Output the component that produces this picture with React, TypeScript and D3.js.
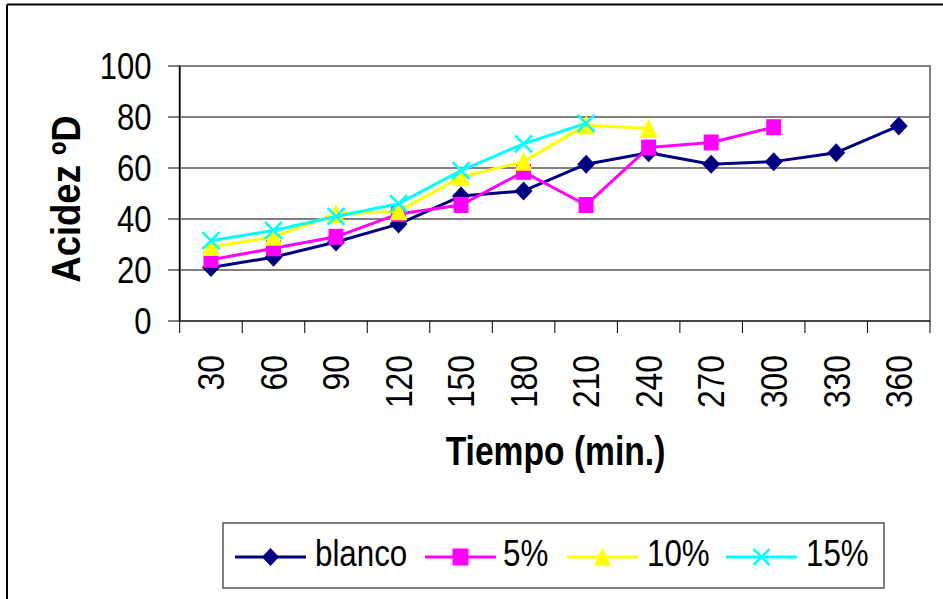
import React from "react";
import * as d3 from "d3";

const categories = ["30", "60", "90", "120", "150", "180", "210", "240", "270", "300", "330", "360"];
const blanco = [21, 25, 31, 38, 49, 51, 61.5, 66, 61.5, 62.5, 66, 76.5];
const pct5 = [24, 28.5, 33, 42, 45.5, 58.5, 45.5, 68, 70, 76];
const pct10 = [29, 33, 42, 43, 56.5, 62.5, 76.8, 75.5];
const pct15 = [31.5, 35.5, 41, 46, 59, 69.5, 77.5];
const yTicks = [0, 20, 40, 60, 80, 100];
const seriesNames = ["blanco", "5%", "10%", "15%"];

const W = 943;
const H = 599;
const FONT = "'Liberation Sans', Arial, sans-serif";

type Kind = "diamond" | "square" | "triangle" | "x";

function markerPath(kind: Kind, cx: number, cy: number, s: number): string {
  const p = d3.path();
  const h = s / 2;
  if (kind === "diamond") {
    p.moveTo(cx, cy - h - 0.5);
    p.lineTo(cx + h, cy);
    p.lineTo(cx, cy + h + 0.5);
    p.lineTo(cx - h, cy);
    p.closePath();
  } else if (kind === "square") {
    p.rect(cx - h + 0.5, cy - h, s - 1, s);
  } else if (kind === "triangle") {
    p.moveTo(cx, cy - h - 1);
    p.lineTo(cx + h, cy + h);
    p.lineTo(cx - h, cy + h);
    p.closePath();
  } else {
    p.moveTo(cx - h, cy - h);
    p.lineTo(cx + h, cy + h);
    p.moveTo(cx + h, cy - h);
    p.lineTo(cx - h, cy + h);
  }
  return p.toString();
}

const series: { name: string; values: number[]; color: string; kind: Kind }[] = [
  { name: seriesNames[0], values: blanco, color: "#000080", kind: "diamond" },
  { name: seriesNames[1], values: pct5, color: "#FF00FF", kind: "square" },
  { name: seriesNames[2], values: pct10, color: "#FFFF00", kind: "triangle" },
  { name: seriesNames[3], values: pct15, color: "#00FFFF", kind: "x" },
];

export default function App() {
  const left = 179.7;
  const right = 930;
  const top = 66;
  const bottom = 321;
  const x = d3.scaleBand<string>().domain(categories).range([left, right]).padding(0);
  const bw = x.bandwidth();
  const cx = (c: string) => (x(c) as number) + bw / 2;
  const y = d3.scaleLinear().domain([0, 100]).range([bottom, top]);

  const line = d3
    .line<[number, number]>()
    .x((d) => d[0])
    .y((d) => d[1]);

  const boundaries = categories.map((c) => x(c) as number).concat([right]);

  const legendItems = [
    { lx: 235, tx: 315 },
    { lx: 425, tx: 503 },
    { lx: 567, tx: 647 },
    { lx: 726, tx: 806 },
  ];
  const legendY = 557;

  return (
    <div style={{ position: "fixed", left: 0, top: 0, width: W, height: H, background: "#fff" }}>
      <svg width={W} height={H} viewBox={`0 0 ${W} ${H}`} style={{ display: "block" }}>
        <rect x={0} y={0} width={W} height={H} fill="#fff" />
        {/* outer chart frame */}
        <line x1={7} y1={4.5} x2={W} y2={4.5} stroke="#000" strokeWidth={2} />
        <line x1={7} y1={4.5} x2={7} y2={H} stroke="#000" strokeWidth={2} />

        {/* gridlines */}
        {yTicks.filter((t) => t !== 0 && t !== 100).map((t) => (
          <line key={"g" + t} x1={left} x2={right} y1={y(t)} y2={y(t)} stroke="#000" strokeWidth={1} />
        ))}
        {/* plot area border */}
        <rect x={left} y={top} width={right - left} height={bottom - top} fill="none" stroke="#808080" strokeWidth={2} />
        {/* axes */}
        <line x1={left} x2={left} y1={top} y2={bottom} stroke="#000" strokeWidth={1.5} />
        <line x1={left} x2={right} y1={bottom} y2={bottom} stroke="#333" strokeWidth={1.5} />
        {yTicks.map((t) => (
          <line key={"yt" + t} x1={168} x2={left} y1={y(t)} y2={y(t)} stroke="#000" strokeWidth={1} />
        ))}
        {boundaries.map((b, i) => (
          <line key={"xt" + i} x1={b} x2={b} y1={bottom} y2={333} stroke="#000" strokeWidth={1} />
        ))}

        {/* y tick labels */}
        {yTicks.map((t) => (
          <text
            key={"yl" + t}
            transform={`translate(151.5,${y(t) + 13.3}) scale(0.84,1)`}
            textAnchor="end"
            fontFamily={FONT}
            fontSize={37}
            fill="#000"
          >
            {t}
          </text>
        ))}
        {/* x tick labels */}
        {categories.map((c) => (
          <text
            key={"xl" + c}
            transform={`translate(${cx(c) + 13.3},355) rotate(-90) scale(0.86,1)`}
            textAnchor="end"
            fontFamily={FONT}
            fontSize={37}
            fill="#000"
          >
            {c}
          </text>
        ))}

        {/* axis titles */}
        <text
          transform={`translate(80,199) rotate(-90) scale(0.89,1)`}
          textAnchor="middle"
          fontFamily={FONT}
          fontWeight="bold"
          fontSize={41}
          fill="#000"
        >
          Acidez ºD
        </text>
        <text
          transform={`translate(555.5,465) scale(0.82,1)`}
          textAnchor="middle"
          fontFamily={FONT}
          fontWeight="bold"
          fontSize={41}
          fill="#000"
        >
          Tiempo (min.)
        </text>

        {/* series */}
        {series.map((s) => {
          const pts: [number, number][] = s.values.map((v, i) => [cx(categories[i]), y(v)]);
          return (
            <g key={s.name}>
              <path d={line(pts) || ""} fill="none" stroke={s.color} strokeWidth={3} strokeLinejoin="round" />
              {pts.map((p, i) =>
                s.kind === "x" ? (
                  <path key={i} d={markerPath(s.kind, p[0], p[1], 17)} stroke={s.color} strokeWidth={2.5} fill="none" />
                ) : (
                  <path key={i} d={markerPath(s.kind, p[0], p[1], s.kind === "square" ? 16 : 18)} fill={s.color} stroke="none" />
                )
              )}
            </g>
          );
        })}

        {/* legend */}
        <rect x={223} y={523} width={661} height={65} fill="#fff" stroke="#555" strokeWidth={1.5} />
        {series.map((s, i) => {
          const it = legendItems[i];
          const mx = it.lx + 35.5;
          return (
            <g key={"lg" + s.name}>
              <line x1={it.lx} x2={it.lx + 71} y1={legendY} y2={legendY} stroke={s.color} strokeWidth={3} />
              {s.kind === "x" ? (
                <path d={markerPath(s.kind, mx, legendY, 16)} stroke={s.color} strokeWidth={2.5} fill="none" />
              ) : (
                <path d={markerPath(s.kind, mx, legendY, s.kind === "square" ? 17 : 17)} fill={s.color} />
              )}
              <text
                transform={`translate(${it.tx},565.5) scale(0.87,1)`}
                fontFamily={FONT}
                fontSize={36}
                fill="#000"
              >
                {s.name}
              </text>
            </g>
          );
        })}
      </svg>
    </div>
  );
}
